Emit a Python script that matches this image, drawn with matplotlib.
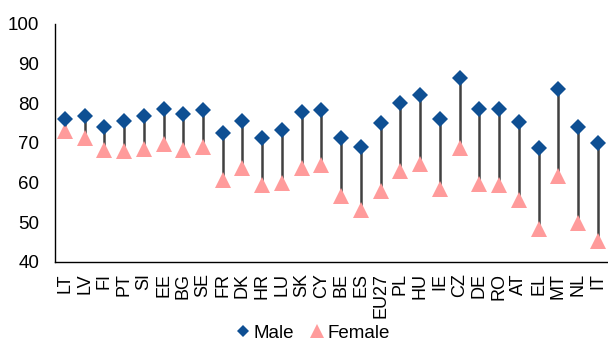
import matplotlib
matplotlib.use("Agg")
import matplotlib.pyplot as plt
from matplotlib.lines import Line2D

plt.rcParams['font.family'] = ['Liberation Sans', 'DejaVu Sans']

countries = ["LT", "LV", "FI", "PT", "SI", "EE", "BG", "SE", "FR", "DK", "HR", "LU", "SK", "CY",
             "BE", "ES", "EU27", "PL", "HU", "IE", "CZ", "DE", "RO", "AT", "EL", "MT", "NL", "IT"]
male = [76.0, 76.8, 74.0, 75.6, 76.7, 78.6, 77.2, 78.2, 72.4, 75.6, 71.3, 73.4, 77.7, 78.3,
        71.3, 69.1, 75.0, 80.2, 82.1, 76.0, 86.3, 78.6, 78.6, 75.3, 68.7, 83.7, 74.0, 69.9]
female = [73.0, 71.2, 68.3, 67.9, 68.4, 69.7, 68.2, 68.9, 60.7, 63.7, 59.5, 59.9, 63.8, 64.4,
          56.7, 53.2, 57.8, 63.0, 64.7, 58.4, 68.7, 59.6, 59.4, 55.7, 48.3, 61.7, 49.8, 45.4]
yticks = [40, 50, 60, 70, 80, 90, 100]

male_color = "#0E4F93"
female_color = "#FF9B9B"
line_color = "#404040"

fig = plt.figure(figsize=(6.08, 3.41), dpi=100)
ax = fig.add_axes([55 / 608, 79 / 341, 552.6 / 608, 238 / 341])

x = list(range(len(countries)))
ax.vlines(x, female, male, color=line_color, linewidth=1.8, zorder=1)
ax.plot(x, male, linestyle="none", marker="D", markersize=8.0, color=male_color,
        markeredgewidth=0, zorder=3, label="Male")
ax.plot(x, female, linestyle="none", marker="^", markersize=11, color=female_color,
        markeredgewidth=0, zorder=2, label="Female")

ax.set_xlim(-0.5, len(countries) - 0.5)
ax.set_ylim(40, 100)
ax.set_yticks(yticks)
ax.set_yticklabels([str(v) for v in yticks], fontsize=13.5)
ax.set_xticks(x)
ax.set_xticklabels(countries, rotation=90, fontsize=13)
ax.tick_params(axis="x", length=0, pad=8)
ax.tick_params(axis="y", length=0, pad=11.5)

for s in ["top", "right"]:
    ax.spines[s].set_visible(False)
for s in ["left", "bottom"]:
    ax.spines[s].set_color("#000000")
    ax.spines[s].set_linewidth(1.0)

handles = [
    Line2D([], [], linestyle="none", marker="D", markersize=6.5, color=male_color, markeredgewidth=0),
    Line2D([], [], linestyle="none", marker="^", markersize=10, color=female_color, markeredgewidth=0),
]
fig.legend(handles, ["Male", "Female"], loc="center", bbox_to_anchor=(0.515, 0.022),
           ncol=2, frameon=False, fontsize=13.5, handlelength=0.7, handletextpad=0.2,
           columnspacing=0.9, borderpad=0)

fig.savefig("out.png", dpi=100)
